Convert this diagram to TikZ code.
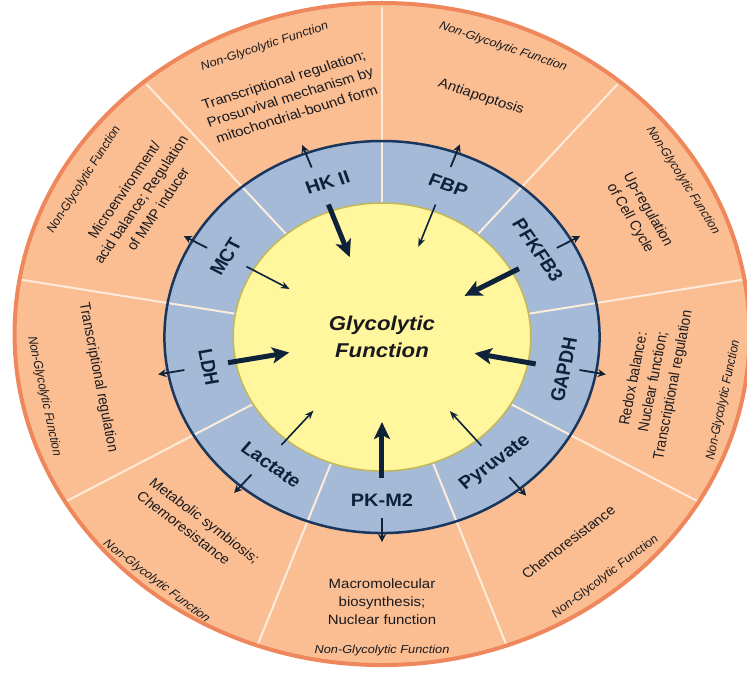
\documentclass[tikz,border=0pt]{standalone}
\usepackage{fontspec}
\setmainfont{Liberation Sans}
\usetikzlibrary{arrows.meta}
\definecolor{orfill}{RGB}{250,190,146}
\definecolor{orborder}{RGB}{238,136,92}
\definecolor{bluefill}{RGB}{164,186,214}
\definecolor{blueborder}{RGB}{24,54,94}
\definecolor{yelfill}{RGB}{255,246,158}
\definecolor{yelborder}{RGB}{196,184,86}
\definecolor{divcol}{RGB}{253,236,220}
\definecolor{arrcol}{RGB}{14,34,58}
\definecolor{txtcol}{RGB}{25,25,30}
\tikzset{
  bluelab/.style={font=\fontsize{18}{20}\selectfont\bfseries, text=arrcol},
  desc/.style={font=\fontsize{13.5}{18}\selectfont, text=txtcol, align=center},
  ngf/.style={font=\fontsize{11.5}{13}\selectfont\itshape, text=txtcol},
  bigarrow/.style={draw=arrcol, line width=5pt, -{Stealth[length=17pt,width=16pt,inset=4pt]}},
  smallarrow/.style={draw=arrcol, line width=1.6pt, -{Stealth[length=9pt,width=7pt]}},
  outarrow/.style={draw=arrcol, line width=1.8pt, -{Stealth[length=8pt,width=8pt]}},
  divider/.style={draw=divcol, line width=2pt},
}
\begin{document}
\begin{tikzpicture}[x=1pt,y=1pt,xscale=1.11,every node/.append style={transform shape,inner sep=0pt}]
\useasboundingbox (-344.1,-342) rectangle (328.8,337);
\fill[white] (-344.1,-342) rectangle (328.8,337);
\clip (-344.1,-342) rectangle (328.8,337);
% rings
\fill[orfill] (0,3) circle (331);
\fill[bluefill] (0,0) circle (196);
\fill[yelfill] (0,0) circle (134);
\foreach \a in {90,50,10,-30,-70,-110,-150,170,130}
  \draw[divider] (\a:135) -- (\a:330);
\draw[orborder, line width=4pt] (0,3) circle (331);
\draw[blueborder, line width=2.5pt] (0,0) circle (196);
\draw[yelborder, line width=1.5pt] (0,0) circle (134);
% centre text
\node[font=\fontsize{20}{27}\selectfont\bfseries\itshape, align=center, text=txtcol] (center) at (0,0) {Glycolytic\\Function};
% blue ring labels
\node[bluelab, rotate=18] (hk) at (107.6:162) {HK II};
\node[bluelab, rotate=-21] (fbp) at (68.5:163) {FBP};
\node[bluelab, rotate=-58] (pfk) at (31.7:165) {PFKFB3};
\node[bluelab, rotate=79] (gapdh) at (-11.3:167) {GAPDH};
\node[bluelab, rotate=39] (pyr) at (-51:162) {Pyruvate};
\node[bluelab] (pkm) at (-90:163) {PK-M2};
\node[bluelab, rotate=-38] (lac) at (-128:162) {Lactate};
\node[bluelab, rotate=-79] (ldh) at (-169:159) {LDH};
\node[bluelab, rotate=60] (mct) at (150.4:162) {MCT};
% orange ring texts
\node[desc, rotate=19] (d1) at (109:254) {Transcriptional regulation;\\Prosurvival mechanism by\\mitochondrial-bound form};
\node[ngf, rotate=20] (n1) at (110:309) {Non-Glycolytic Function};
\node[desc, rotate=-20] (d2) at (69.6:256) {Antiapoptosis};
\node[ngf, rotate=-20] (n2) at (69.4:310) {Non-Glycolytic Function};
\node[desc, rotate=-62] (d3) at (28:262) {Up-regulation\\of Cell Cycle};
\node[ngf, rotate=-60] (n3) at (30:313) {Non-Glycolytic Function};
\node[desc, rotate=80] (d4) at (-10.4:249) {Redox balance:\\Nuclear function;\\Transcriptional regulation};
\node[ngf, rotate=79] (n4) at (-11.6:314) {Non-Glycolytic Function};
\node[desc, rotate=40] (d5) at (-50.7:265) {Chemoresistance};
\node[ngf, rotate=40] (n5) at (-50:313) {Non-Glycolytic Function};
\node[desc] (d6) at (-90:265) {Macromolecular\\biosynthesis;\\Nuclear function};
\node[ngf] (n6) at (-90:313) {Non-Glycolytic Function};
\node[desc, rotate=-40, align=left] (d7) at (-131:252) {Metabolic symbiosis;\\Chemoresistance};
\node[ngf, rotate=-40] (n7) at (-129.7:318) {Non-Glycolytic Function};
\node[desc, rotate=-80] (d8) at (-171:259) {Transcriptional regulation};
\node[ngf, rotate=-79] (n8) at (-169:310) {Non-Glycolytic Function};
\node[desc, rotate=58] (d9) at (147.7:257) {Microenvironment/\\acid balance; Regulation\\of MMP inducer};
\node[ngf, rotate=60] (n9) at (149.6:311) {Non-Glycolytic Function};
% inward arrows
\foreach \n/\a in {hk/110,pfk/29,gapdh/-11,pkm/-90,ldh/-169.5}{
  \coordinate (\n-s) at (\a:141);
  \coordinate (\n-e) at (\a:85);
  \draw[bigarrow] (\n-s) -- (\n-e);
}
\foreach \n/\a in {fbp/70,pyr/-50.5,lac/-130,mct/150}{
  \coordinate (\n-s) at (\a:141);
  \coordinate (\n-e) at (\a:96);
  \draw[smallarrow] (\n-s) -- (\n-e);
}
% outward arrows
\foreach \n/\a in {hk/110.5,fbp/70,pfk/29.5,gapdh/-10.5,pyr/-50.7,pkm/-90,lac/-130.5,ldh/-169.5,mct/150.5}{
  \coordinate (\n-o1) at (\a:181);
  \coordinate (\n-o2) at (\a:205);
  \draw[outarrow] (\n-o1) -- (\n-o2);
}
\end{tikzpicture}
\end{document}
